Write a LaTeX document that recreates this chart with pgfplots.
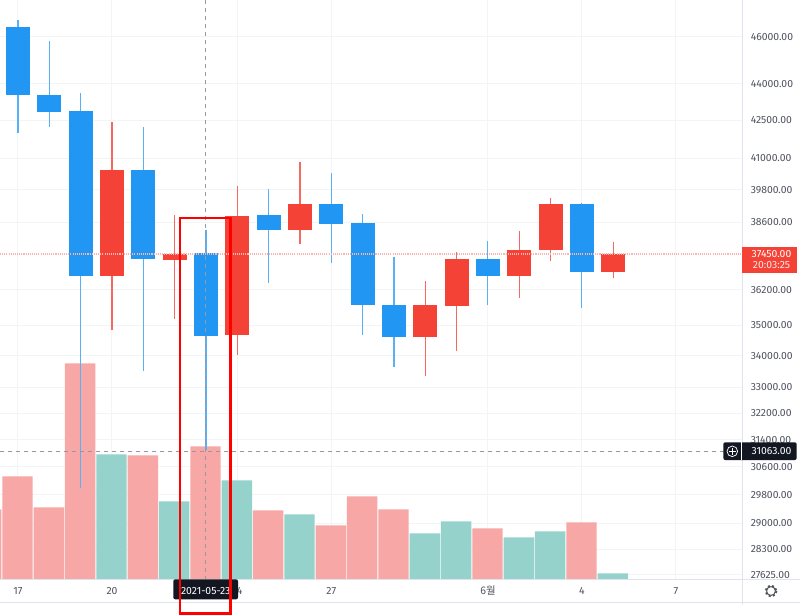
\documentclass[border=0pt]{standalone}
\usepackage{fontspec}
\usepackage{pgfplots}
\pgfplotsset{compat=1.18}
\setmainfont{Fira Sans}
\newfontfamily\cjk{Noto Sans CJK KR}
\definecolor{upc}{HTML}{F44336}
\definecolor{dnc}{HTML}{2196F3}
\definecolor{volr}{HTML}{F8A7A7}
\definecolor{volg}{HTML}{94D2CB}
\definecolor{gridc}{HTML}{F3F4F6}
\definecolor{txtc}{HTML}{50535E}
\definecolor{dark}{HTML}{131722}
\definecolor{borderc}{HTML}{E0E3EB}
\definecolor{crossc}{HTML}{9598A1}
\pgfplotsset{
  wick/.style={line width=0.8pt,unbounded coords=jump,line cap=butt,no markers},
  body/.style={line width=18pt,unbounded coords=jump,line cap=butt,no markers},
}
\begin{document}
\begin{tikzpicture}
\fill[white] (0pt,0pt) rectangle (600pt,-461.25pt);
\useasboundingbox (0pt,0pt) rectangle (600pt,-461.25pt);
% grid and tick labels
\begin{axis}[at={(0pt,0pt)},anchor=north west,scale only axis,
  width=556.725pt,height=434.475pt,xmin=-0.5745,xmax=23.118,
  ymode=log,ymin=27511,ymax=47642,
  axis line style={draw=none},
  ymajorgrids=true,xmajorgrids=true,
  major grid style={gridc,line width=0.75pt},
  major tick length=0pt,minor tick length=0pt,
  ytick pos=right,xtick pos=bottom,
  xtick={0,3,7,10,15,18,21},
  xticklabels={17,20,24,27,{\cjk 6월},4,7},
  ytick={46000,44000,42500,41000,39800,38600,36200,35000,34000,33000,32200,31400,30600,29800,29000,28300,27625},
  yticklabels={46000.00,44000.00,42500.00,41000.00,39800.00,38600.00,36200.00,35000.00,34000.00,33000.00,32200.00,31400.00,30600.00,29800.00,29000.00,28300.00,27625.00},
  tick label style={font=\fontsize{7.8pt}{9pt}\selectfont,text=txtc},
  yticklabel style={anchor=west,xshift=2.8pt},
  xticklabel style={anchor=base,yshift=-11.5pt},
]
\addplot[draw=none,forget plot] coordinates {(0,30000)(1,40000)};
\end{axis}
% volume
\begin{axis}[at={(0pt,0pt)},anchor=north west,scale only axis,
  width=556.725pt,height=434.475pt,xmin=-0.5745,xmax=23.118,
  hide axis,ymin=0,ymax=579.3]
\addplot[ybar,bar width=22.8pt,bar shift=-0.35pt,fill=volr,draw=none] coordinates {
 (-1,70)(0,103)(1,72)(2,216)(4,124)(6,133)(8,69)(10,54)(11,83)(12,70)(15,51)(18,57)};
\addplot[ybar,bar width=22.8pt,bar shift=-0.35pt,fill=volg,draw=none] coordinates {
 (3,125)(5,78)(7,99)(9,65)(13,46)(14,58)(16,42)(17,48)(19,6)};
\end{axis}
% candles
\begin{axis}[at={(0pt,0pt)},anchor=north west,scale only axis,
  width=556.725pt,height=434.475pt,xmin=-0.5745,xmax=23.118,
  ymode=log,ymin=27511,ymax=47642,hide axis]
% falling candles (blue): high, low
\addplot[wick,dnc!75!white] coordinates {
 (0,46720)(0,42010)(0,nan)
 (1,45810)(1,42250)(1,nan)
 (2,43610)(2,30000)(2,nan)
 (4,42230)(4,33500)(4,nan)
 (6,38310)(6,31100)(6,nan)
 (8,39820)(8,36430)(8,nan)
 (10,40430)(10,37140)(10,nan)
 (11,38900)(11,34680)(11,nan)
 (12,37350)(12,33640)(12,nan)
 (15,37920)(15,35680)(15,nan)
 (18,39300)(18,35570)};
% rising candles (red): high, low
\addplot[wick,upc!80!white] coordinates {
 (3,42450)(3,34850)(3,nan)
 (5,38860)(5,35200)(5,nan)
 (7,39940)(7,34030)(7,nan)
 (9,40860)(9,37790)(9,nan)
 (13,36500)(13,33370)(13,nan)
 (14,37510)(14,34160)(14,nan)
 (16,38260)(16,35930)(16,nan)
 (17,39490)(17,37180)(17,nan)
 (19,37870)(19,36620)};
% bodies
\addplot[body,dnc] coordinates {
 (0,46450)(0,43530)(0,nan)
 (1,43550)(1,42830)(1,nan)
 (2,42870)(2,36690)(2,nan)
 (4,40540)(4,37260)(4,nan)
 (6,37480)(6,34660)(6,nan)
 (8,38850)(8,38320)(8,nan)
 (10,39270)(10,38540)(10,nan)
 (11,38570)(11,35670)(11,nan)
 (12,35690)(12,34610)(12,nan)
 (15,37270)(15,36690)(15,nan)
 (18,39270)(18,36830)};
\addplot[body,upc] coordinates {
 (3,40540)(3,36660)(3,nan)
 (5,37460)(5,37250)(5,nan)
 (7,38810)(7,34680)(7,nan)
 (9,39270)(9,38320)(9,nan)
 (13,35670)(13,34610)(13,nan)
 (14,37270)(14,35650)(14,nan)
 (16,37600)(16,36690)(16,nan)
 (17,39270)(17,37580)(17,nan)
 (19,37450)(19,36830)};
% last price and crosshair
\addplot[upc!40!white,line width=1pt,dash pattern=on 0.8pt off 0.8pt,no markers] coordinates {(-0.5745,37450)(23.118,37450)};
\addplot[crossc,line width=0.75pt,dash pattern=on 3pt off 3pt,no markers] coordinates {(-0.5745,31063)(23.118,31063)};
\addplot[crossc,line width=0.75pt,dash pattern=on 3pt off 3pt,no markers] coordinates {(6,47642)(6,27511)};
\end{axis}
\begin{scope}[x=0.75pt,y=-0.75pt]
  % panel borders
  \draw[borderc,line width=0.75pt] (742.3,0) -- (742.3,605);
  \draw[borderc,line width=0.75pt] (0,579.3) -- (800,579.3);
  \draw[borderc,line width=0.75pt] (0,602.7) -- (800,602.7);
  % last price label
  \fill[upc] (742.3,246.7) rectangle (797,272.7);
  \node[text=white,font=\fontsize{7.8pt}{9pt}\selectfont,anchor=center] at (771.5,254) {37450.00};
  \node[text=white!88!upc,font=\fontsize{7.8pt}{9pt}\selectfont,anchor=center] at (771.5,265.5) {20:03:25};
  % crosshair label
  \fill[dark,rounded corners=1.5pt] (723.3,442.3) rectangle (796.7,460);
  \draw[white,line width=0.6pt] (741.3,442.3) -- (741.3,460);
  \draw[white,line width=0.55pt] (732.3,451.3) circle (5.3);
  \draw[white,line width=0.55pt] (732.3,447.8) -- (732.3,454.8) (728.8,451.3) -- (735.8,451.3);
  \node[text=white,font=\fontsize{7.8pt}{9pt}\selectfont,anchor=center] at (771.5,451.3) {31063.00};
  % date label
  \fill[dark,rounded corners=1.5pt] (173.3,579.3) rectangle (238,599.3);
  \node[text=white,font=\fontsize{7.8pt}{9pt}\selectfont,anchor=center] at (205.7,591) {2021-05-23};
  % highlight
  \draw[red,line width=1.9pt] (180,218) rectangle (230.3,613.3);
  % gear
  \draw[txtc,line width=0.7pt] (771,591) circle (4.4);
  \draw[txtc,line width=1.2pt,dash pattern=on 1.6pt off 1.75pt] (771,591) circle (5.6);
\end{scope}
\end{tikzpicture}
\end{document}
